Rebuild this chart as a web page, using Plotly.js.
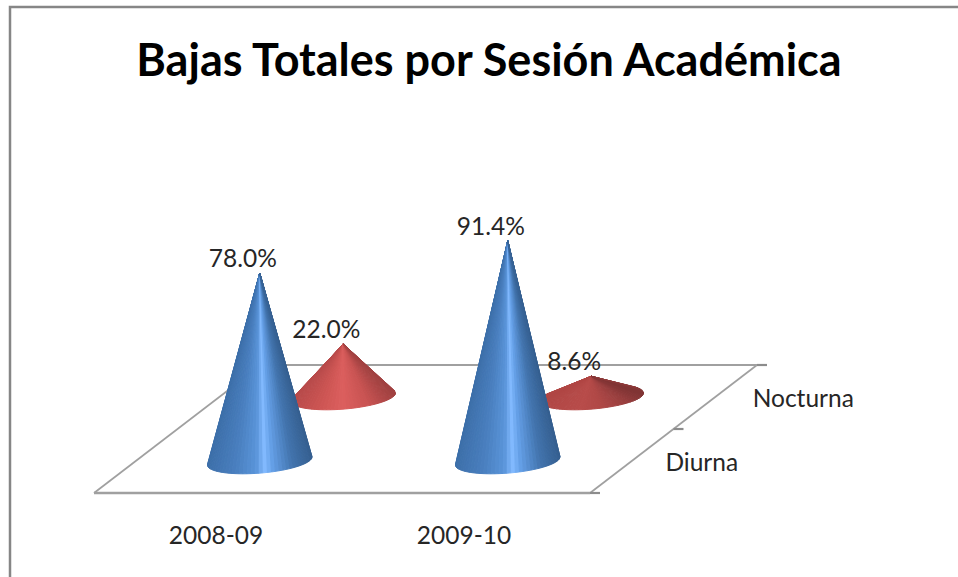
<!DOCTYPE html>
<html><head><meta charset="utf-8">
<script src="https://cdn.plot.ly/plotly-3.0.1.min.js"></script>
<style>html,body{margin:0;padding:0;background:#fff}#c{width:958px;height:577px}</style>
</head><body><div id="c"></div>
<script>
const chartTitle = 'Bajas Totales por Sesión Académica';
const categories = ['2008-09', '2009-10'];
const seriesNames = ['Diurna', 'Nocturna'];
const diurna = [78.0, 91.4];
const nocturna = [22.0, 8.6];

// Oblique projection of the 3-D box: category, series depth, value -> plot units
const origin = [94, 493], catStep = 248, depthStep = [83.5, -64], valueScale = 2.41, coneRadius = 0.2;
const project = (c, d, v) => [origin[0] + c * catStep + d * depthStep[0], origin[1] + d * depthStep[1] - v * valueScale];

const bluePal = [[0,'#3d6fa9'],[.28,'#4a80c0'],[.47,'#5a95da'],[.55,'#82baff'],[.63,'#649fe6'],[.82,'#4274ae'],[1,'#355f90']];
const redPal1 = [[0,'#b84a4a'],[.3,'#cf5654'],[.5,'#dc5f5e'],[.75,'#c95352'],[1,'#a04040']];
const redPal2 = [[0,'#b04644'],[.4,'#b84c4a'],[.6,'#b04846'],[.85,'#983e3e'],[1,'#803434']];

function hex(c){return [1,3,5].map(i=>parseInt(c.substr(i,2),16));}
function shade(pal,u){
  u=Math.max(0,Math.min(1,u));
  for(let i=1;i<pal.length;i++){
    if(u<=pal[i][0]){
      const a=pal[i-1],b=pal[i],f=(b[0]-a[0])?(u-a[0])/(b[0]-a[0]):0;
      const A=hex(a[1]),B=hex(b[1]);
      return 'rgb('+A.map((x,k)=>Math.round(x+(B[k]-x)*f)).join(',')+')';
    }
  }
  return pal[pal.length-1][1];
}

function cone(c,d,v,pal){
  const apex=project(c,d,v), N=80, pts=[], out=[];
  for(let i=0;i<=N;i++){
    const t=2*Math.PI*i/N, cc=c+coneRadius*Math.cos(t), dd=d+coneRadius*Math.sin(t);
    pts.push(project(cc,dd,0));
  }
  const xs=pts.map(p=>p[0]), minX=Math.min(...xs), maxX=Math.max(...xs);
  for(let i=0;i<N;i++){
    const p=pts[i],q=pts[i+1];
    const cross=(p[0]-apex[0])*(q[1]-apex[1])-(p[1]-apex[1])*(q[0]-apex[0]);
    if(cross>=0) continue; // back-facing
    const col=shade(pal,((p[0]+q[0])/2-minX)/(maxX-minX));
    out.push({type:'scatter',mode:'lines',x:[apex[0],p[0],q[0],apex[0]],y:[apex[1],p[1],q[1],apex[1]],
      fill:'toself',fillcolor:col,line:{color:col,width:1},hoverinfo:'skip',showlegend:false});
  }
  return out;
}

function line(a,b,color,width){
  return {type:'scatter',mode:'lines',x:[a[0],b[0]],y:[a[1],b[1]],line:{color:color,width:width},hoverinfo:'skip',showlegend:false};
}
const floorCol='#a0a0a0', tickCol='#8c8c8c';
const traces=[
  line(project(0,0,0),project(2,0,0),floorCol,2.4),
  line(project(0,2,0),project(2,2,0),floorCol,2.2),
  line(project(0,0,0),project(0,2,0),floorCol,1.7),
  line(project(2,0,0),project(2,2,0),floorCol,1.7)
];
[0,1,2].forEach(d=>{const p=project(2,d,0);traces.push(line(p,[p[0]+10,p[1]],tickCol,2.2));});

nocturna.forEach((v,i)=>traces.push(...cone(i+.5,1.5,v,i===0?redPal1:redPal2)));
diurna.forEach((v,i)=>traces.push(...cone(i+.5,.5,v,bluePal)));

const font=(s)=>({family:'Lato, "Open Sans", sans-serif',size:s,color:'#262626'});
const labelDx=-17,labelDy=-12;
const lab=[];
[[diurna,.5],[nocturna,1.5]].forEach(([vals,d])=>vals.forEach((v,i)=>{
  const a=project(i+.5,d,v);
  lab.push({x:a[0]+labelDx,y:a[1]+labelDy,t:v.toFixed(1)+'%'});
}));
traces.push({type:'scatter',mode:'text',x:lab.map(l=>l.x),y:lab.map(l=>l.y),text:lab.map(l=>l.t),
  textposition:'middle center',textfont:font(24.5),hoverinfo:'skip',showlegend:false});

const catPos=categories.map((_,i)=>project(i+.5,0,0));
traces.push({type:'scatter',mode:'text',x:catPos.map(p=>p[0]-2),y:catPos.map(p=>p[1]+45),text:categories,
  textposition:'middle center',textfont:font(24.5),hoverinfo:'skip',showlegend:false});
const serOff=[70,88];
const serPos=seriesNames.map((_,i)=>project(2,i+.5,0));
traces.push({type:'scatter',mode:'text',x:serPos.map((p,i)=>p[0]+serOff[i]),y:serPos.map(p=>p[1]+4),text:seriesNames,
  textposition:'middle center',textfont:font(24.5),hoverinfo:'skip',showlegend:false});

const layout={
  width:958,height:577,margin:{l:0,r:0,t:0,b:0},paper_bgcolor:'#fff',plot_bgcolor:'#fff',showlegend:false,
  xaxis:{visible:false,range:[0,958],fixedrange:true},
  yaxis:{visible:false,range:[577,0],fixedrange:true},
  title:{text:'<b>'+chartTitle+'</b>',font:{family:'Lato, "Open Sans", sans-serif',size:45,color:'#000'},x:489/958,xanchor:'center',y:1-60/577,yanchor:'middle'},
  shapes:[{type:'path',path:'M 10 577 L 10 7 L 958 7',line:{color:'#868686',width:2.5},xref:'x',yref:'y'}]
};
Plotly.newPlot('c',traces,layout,{displayModeBar:false,staticPlot:true});
</script></body></html>
